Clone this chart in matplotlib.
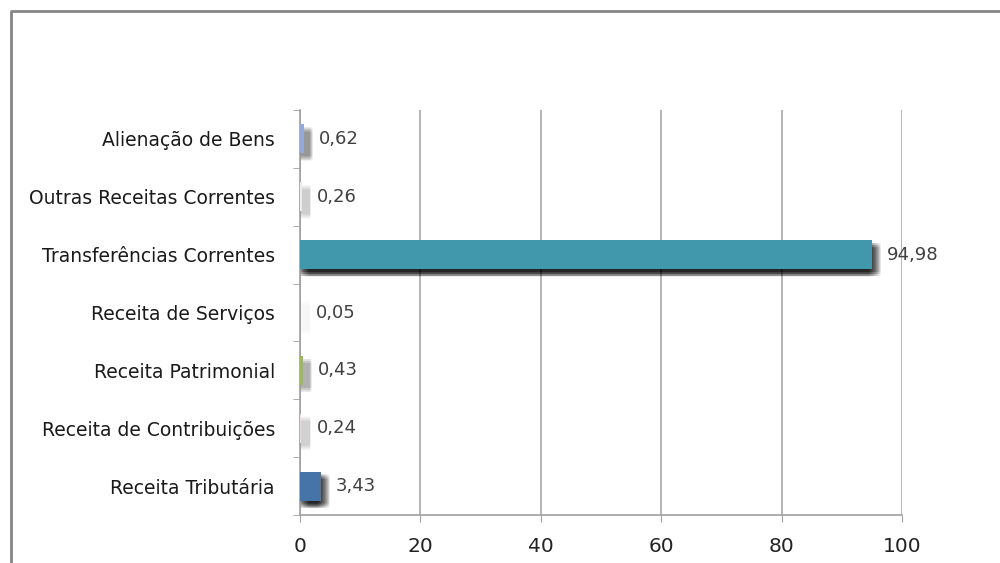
import matplotlib
matplotlib.use("Agg")
import matplotlib.pyplot as plt
import matplotlib.transforms as mtransforms
from matplotlib.lines import Line2D
import numpy as np

categories = ["Receita Tributária", "Receita de Contribuições", "Receita Patrimonial",
              "Receita de Serviços", "Transferências Correntes",
              "Outras Receitas Correntes", "Alienação de Bens"]
values = [3.43, 0.24, 0.43, 0.05, 94.98, 0.26, 0.62]
value_labels = ["3,43", "0,24", "0,43", "0,05", "94,98", "0,26", "0,62"]
bar_colors = ["#4673a8", "#eadcdc", "#9bbb59", "#e4e2ea", "#4197ab", "#ececec", "#93aad9"]
xticks = [0, 20, 40, 60, 80, 100]

fig = plt.figure(figsize=(10, 5.63), dpi=100)
ax = fig.add_axes([0.300, 1 - 515 / 563, 0.602, (515 - 110) / 563])

y = np.arange(len(categories))

# soft (blurred-looking) shadows: many faint offset copies
offsets = [(dx, dy) for dx in range(-3, 10) for dy in (-3, -5, -7)]
for dx, dy in offsets:
    tr = mtransforms.offset_copy(ax.transData, fig=fig, x=dx, y=dy, units="dots")
    ax.barh(y, values, height=0.5, color="black", alpha=0.045, transform=tr,
            zorder=2, linewidth=0, snap=False)

ax.barh(y, values, height=0.5, color=bar_colors, zorder=3, linewidth=0)

for yi, v, lab in zip(y, values, value_labels):
    ax.annotate(lab, (v, yi), xytext=(11, 0), textcoords="offset points",
                ha="left", va="center", fontsize=13, color="#404040",
                family="DejaVu Sans", zorder=4)

ax.set_xlim(0, 100)
ax.set_ylim(-0.5, len(categories) - 0.5)
ax.set_xticks(xticks)
ax.set_xticklabels([str(t) for t in xticks], fontsize=14.5, family="DejaVu Sans", color="#222222")
ax.set_yticks(y)
ax.set_yticklabels(categories, fontsize=13.5, family="DejaVu Sans", color="#1a1a1a")
ax.set_yticks(np.arange(-0.5, len(categories)), minor=True)
ax.tick_params(axis="y", which="major", length=0, pad=18)
ax.tick_params(axis="y", which="minor", length=5, color="#a0a0a0", direction="out")
ax.tick_params(axis="x", which="major", length=5, color="#a0a0a0", direction="out", pad=11)

ax.grid(axis="x", color="#a8a8a8", linewidth=1.2, zorder=0.5)
ax.set_axisbelow(True)
for s in ["top", "right"]:
    ax.spines[s].set_visible(False)
for s in ["left", "bottom"]:
    ax.spines[s].set_color("#a0a0a0")
    ax.spines[s].set_linewidth(1.2)

# outer frame (partially cropped)
fig.add_artist(Line2D([0.011, 0.011, 1.0], [0.0, 1 - 11 / 563, 1 - 11 / 563],
                      transform=fig.transFigure, color="#858585", linewidth=2))

fig.savefig("out.png", dpi=100, facecolor="white")
